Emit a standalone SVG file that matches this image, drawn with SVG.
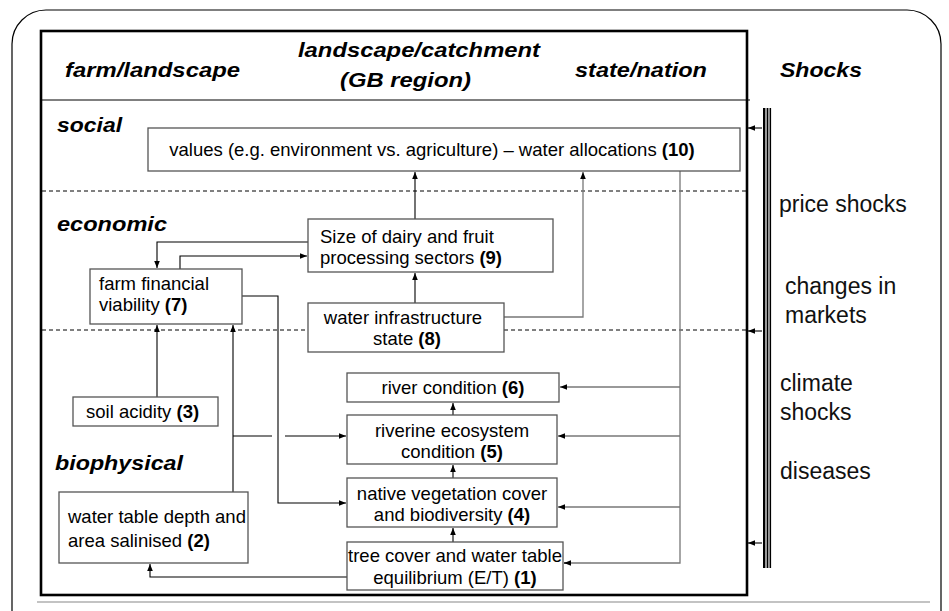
<svg xmlns="http://www.w3.org/2000/svg" width="949" height="611" viewBox="0 0 949 611">
<defs>
<marker id="ah" viewBox="0 0 10 10" refX="10" refY="5" markerWidth="7" markerHeight="7" markerUnits="userSpaceOnUse" orient="auto">
<path d="M0,1 L10,5 L0,9 Z" fill="#000"/>
</marker>
</defs>
<style>
.hd{font-family:"Liberation Sans",Arial,sans-serif;font-weight:bold;font-style:italic;font-size:20px;fill:#000}
.bx{font-family:"Liberation Sans",Arial,sans-serif;font-size:18.5px;fill:#000}
.rt{font-family:"Liberation Sans",Arial,sans-serif;font-size:23px;fill:#111}
.b{font-weight:bold}
.box{fill:#fff;stroke:#555;stroke-width:1.3}
.cn{fill:none;stroke:#000;stroke-width:1.1}
.cg{fill:none;stroke:#777;stroke-width:1.3}
.dash{stroke:#000;stroke-width:1;stroke-dasharray:4 3}
</style>
<rect width="949" height="611" fill="#fff"/>
<rect x="12" y="10" width="929" height="650" rx="34" fill="none" stroke="#000" stroke-width="1.2"/>
<line x1="37" y1="602" x2="930" y2="602" stroke="#888" stroke-width="1.2"/>
<rect x="41" y="31" width="706" height="564" fill="none" stroke="#000" stroke-width="2.6"/>
<line x1="40" y1="100" x2="750" y2="100" stroke="#000" stroke-width="1"/>
<line class="dash" x1="42" y1="191" x2="746" y2="191"/>
<line class="dash" x1="42" y1="330" x2="746" y2="330"/>

<g id="headers">
<text class="hd" x="65" y="77" textLength="175" lengthAdjust="spacingAndGlyphs">farm/landscape</text>
<text class="hd" x="298" y="57" textLength="242" lengthAdjust="spacingAndGlyphs">landscape/catchment</text>
<text class="hd" x="340" y="87" textLength="131" lengthAdjust="spacingAndGlyphs">(GB region)</text>
<text class="hd" x="575" y="77" textLength="132" lengthAdjust="spacingAndGlyphs">state/nation</text>
<text class="hd" x="780" y="77" textLength="82" lengthAdjust="spacingAndGlyphs">Shocks</text>
<text class="hd" x="57" y="132" textLength="65" lengthAdjust="spacingAndGlyphs">social</text>
<text class="hd" x="57" y="231" textLength="110" lengthAdjust="spacingAndGlyphs">economic</text>
<text class="hd" x="55" y="470" textLength="128" lengthAdjust="spacingAndGlyphs">biophysical</text>
</g>

<g id="connectors">
<path class="cn" d="M415,219 V172" marker-end="url(#ah)"/>
<path class="cn" d="M415,303 V273" marker-end="url(#ah)"/>
<path class="cg" d="M504,317 H583 V172" marker-end="url(#ah)"/>
<path class="cn" d="M308,242 H157 V268" marker-end="url(#ah)"/>
<path class="cn" d="M180,269 V256 H307" marker-end="url(#ah)"/>
<path class="cn" d="M157,397 V325" marker-end="url(#ah)"/>
<path class="cn" d="M233,492 V325" marker-end="url(#ah)"/>
<path class="cn" d="M242,296 H278 V503 H346" marker-end="url(#ah)"/>
<path class="cn" d="M233,436 H272"/>
<path class="cn" d="M285,436 H346" marker-end="url(#ah)"/>
<path class="cn" d="M347,577 H150 V564" marker-end="url(#ah)"/>
<path class="cn" d="M453,542 V528" marker-end="url(#ah)"/>
<path class="cn" d="M453,478 V465" marker-end="url(#ah)"/>
<path class="cn" d="M453,415 V403" marker-end="url(#ah)"/>
<path class="cg" d="M680,171 V563 H564"/>
<path class="cg" d="M680,387 H560" marker-end="url(#ah)"/>
<path class="cg" d="M680,436 H558" marker-end="url(#ah)"/>
<path class="cg" d="M680,507 H558" marker-end="url(#ah)"/>
<path class="cn" d="M570,563 H564" marker-end="url(#ah)"/>
<path class="cn" d="M762,128 H748" marker-end="url(#ah)"/>
<path class="cn" d="M762,331 H748" marker-end="url(#ah)"/>
<path class="cn" d="M762,543 H748" marker-end="url(#ah)"/>
</g>

<g id="shock-bar">
<rect x="763" y="108" width="8" height="460" fill="#999"/>
<line x1="764" y1="108" x2="764" y2="568" stroke="#000" stroke-width="2"/>
<line x1="767.5" y1="108" x2="767.5" y2="568" stroke="#000" stroke-width="1"/>
<line x1="770.5" y1="108" x2="770.5" y2="568" stroke="#000" stroke-width="1.2"/>
</g>

<g id="shocks-labels">
<text class="rt" x="779" y="212">price shocks</text>
<text class="rt" x="785" y="294">changes in</text>
<text class="rt" x="785" y="323">markets</text>
<text class="rt" x="780" y="391">climate</text>
<text class="rt" x="780" y="420">shocks</text>
<text class="rt" x="780" y="479">diseases</text>
</g>

<g id="n10">
<rect class="box" x="148" y="128" width="592" height="43"/>
<text class="bx" x="432" y="156" text-anchor="middle">values (e.g. environment vs. agriculture) – water allocations <tspan class="b">(10)</tspan></text>
</g>
<g id="n9">
<rect class="box" x="308" y="219" width="245" height="53"/>
<text class="bx" x="320" y="243">Size of dairy and fruit</text>
<text class="bx" x="320" y="264">processing sectors <tspan class="b">(9)</tspan></text>
</g>
<g id="n8">
<rect class="box" x="308" y="303" width="196" height="49"/>
<text class="bx" x="403" y="324" text-anchor="middle">water infrastructure</text>
<text class="bx" x="407" y="345" text-anchor="middle">state <tspan class="b">(8)</tspan></text>
</g>
<g id="n7">
<rect class="box" x="90" y="269" width="152" height="55"/>
<text class="bx" x="99" y="290">farm financial</text>
<text class="bx" x="99" y="311">viability <tspan class="b">(7)</tspan></text>
</g>
<g id="n3">
<rect class="box" x="73" y="397" width="145" height="29"/>
<text class="bx" x="86" y="418">soil acidity <tspan class="b">(3)</tspan></text>
</g>
<g id="n2">
<rect class="box" x="59" y="492" width="189" height="71"/>
<text class="bx" x="68" y="523">water table depth and</text>
<text class="bx" x="68" y="547">area salinised <tspan class="b">(2)</tspan></text>
</g>
<g id="n6">
<rect class="box" x="347" y="373" width="212" height="29"/>
<text class="bx" x="453" y="394" text-anchor="middle">river condition <tspan class="b">(6)</tspan></text>
</g>
<g id="n5">
<rect class="box" x="347" y="415" width="210" height="49"/>
<text class="bx" x="452" y="437" text-anchor="middle">riverine ecosystem</text>
<text class="bx" x="452" y="458" text-anchor="middle">condition <tspan class="b">(5)</tspan></text>
</g>
<g id="n4">
<rect class="box" x="347" y="478" width="210" height="49"/>
<text class="bx" x="452" y="500" text-anchor="middle">native vegetation cover</text>
<text class="bx" x="452" y="521" text-anchor="middle">and biodiversity <tspan class="b">(4)</tspan></text>
</g>
<g id="n1">
<rect class="box" x="347" y="542" width="216" height="48"/>
<text class="bx" x="455" y="562" text-anchor="middle">tree cover and water table</text>
<text class="bx" x="455" y="584" text-anchor="middle">equilibrium (E/T) <tspan class="b">(1)</tspan></text>
</g>
</svg>
